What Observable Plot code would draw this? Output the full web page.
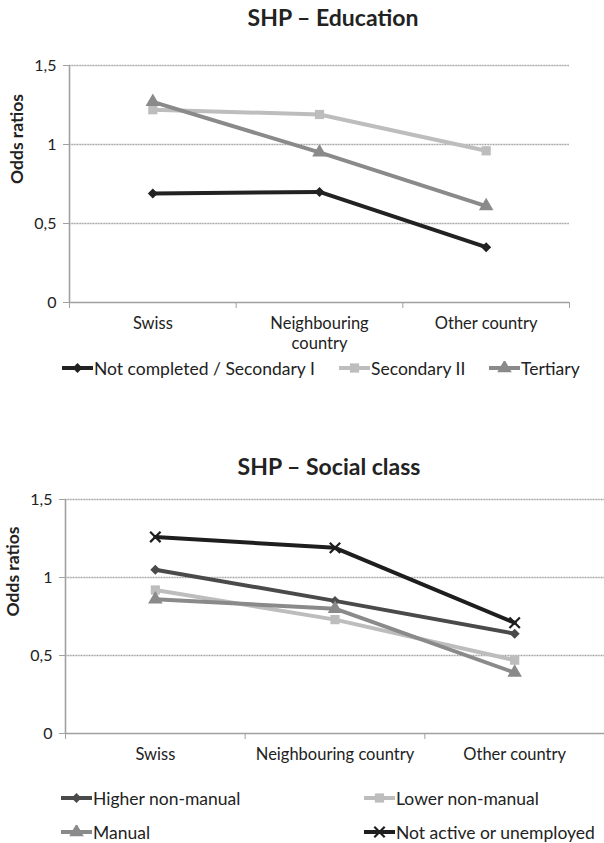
<!DOCTYPE html>
<html>
<head>
<meta charset="utf-8">
<script src="https://cdn.jsdelivr.net/npm/d3@7"></script>
<script src="https://cdn.jsdelivr.net/npm/@observablehq/plot@0.6"></script>
<style>
  html, body { margin: 0; padding: 0; background: #fff; }
  body { width: 604px; height: 843px; position: relative; overflow: hidden; font-family: Lato, "Open Sans", sans-serif; color: #222; }
  .title { position: absolute; transform: translateX(-50%); font-weight: bold; font-size: 23px; line-height: 23px; white-space: nowrap; color: #222; }
  .chart { position: absolute; left: 0; }
  .leg { position: absolute; display: flex; align-items: center; height: 20px; font-size: 17.5px; white-space: nowrap; color: #222; }
  .leg svg { display: block; margin-right: 1px; }
</style>
</head>
<body>
<div class="title" id="t1" style="left:333px; top:6px;">SHP – Education</div>
<div class="chart" id="c1" style="top:40px;"></div>
<div id="l1"></div>
<div class="title" id="t2" style="left:329px; top:455px;">SHP – Social class</div>
<div class="chart" id="c2" style="top:480px;"></div>
<div id="l2"></div>
<script>
// ---- data ----
const categories = ["Swiss", "Neighbouring country", "Other country"];
const categoryLabelsTop = ["Swiss", "Neighbouring\ncountry", "Other country"];
const yTicks = [0, 0.5, 1, 1.5];

const eduNames = ["Not completed / Secondary I", "Secondary II", "Tertiary"];
const eduNotCompleted = [0.69, 0.70, 0.35];
const eduSecondaryII = [1.22, 1.19, 0.96];
const eduTertiary = [1.27, 0.95, 0.61];

const classNames = ["Higher non-manual", "Lower non-manual", "Manual", "Not active or unemployed"];
const classHigher = [1.05, 0.85, 0.64];
const classLower = [0.92, 0.73, 0.47];
const classManual = [0.86, 0.80, 0.39];
const classNotActive = [1.26, 1.19, 0.71];

// ---- styles ----
const eduStyles = [
  {color: "#222222", symbol: "square", rotate: 45, r: 4.0, stroke: false},
  {color: "#bdbdbd", symbol: "square", rotate: 0, r: 5.2, stroke: false},
  {color: "#8a8a8a", symbol: "triangle", rotate: 0, r: 5.4, stroke: false}
];
const classStyles = [
  {color: "#4a4a4a", symbol: "square", rotate: 45, r: 4.0, stroke: false},
  {color: "#bdbdbd", symbol: "square", rotate: 0, r: 5.2, stroke: false},
  {color: "#8a8a8a", symbol: "triangle", rotate: 0, r: 5.4, stroke: false},
  {color: "#1e1e1e", symbol: "times", rotate: 0, r: 4.8, stroke: true}
];

const fmt = d => String(d).replace(".", ",");
const boundaries = d3.range(categories.length + 1).map(i => i - 0.5);

function chart({names, values, styles, labels, height, mt, mb, ml, mr, xPad}) {
  const marks = [
    Plot.gridY(yTicks.filter(d => d > 0), {stroke: "#9c9c9c", strokeOpacity: 1, strokeWidth: 1.6, strokeDasharray: "1,0.6"}),
    Plot.ruleY([0], {stroke: "#a0a0a0", strokeWidth: 1.6}),
    Plot.ruleX([-0.5], {stroke: "#a0a0a0", strokeWidth: 1.6}),
    Plot.axisY({ticks: yTicks, tickSize: 6, tickPadding: 7, tickFormat: fmt, stroke: "#a0a0a0", label: null, fontSize: 16}),
    Plot.axisX({ticks: boundaries, tickSize: 6, tickFormat: () => "", stroke: "#a0a0a0", label: null}),
    Plot.axisX({ticks: d3.range(categories.length), tickSize: 0, tickPadding: xPad, tickFormat: i => labels[i], label: null, fontSize: 16.5, lineHeight: 1.18}),
    Plot.text(["Odds ratios"], {frameAnchor: "left", rotate: -90, dx: -52, fontWeight: "bold", fontSize: 17.5, fill: "#222"})
  ];
  names.forEach((name, k) => {
    const st = styles[k];
    const rows = values[k].map((v, i) => ({i, v, name}));
    marks.push(Plot.line(rows, {x: "i", y: "v", stroke: st.color, strokeWidth: 4, strokeLinejoin: "round"}));
    if (st.stroke) {
      marks.push(Plot.dot(rows, {x: "i", y: "v", symbol: st.symbol, r: st.r, stroke: st.color, strokeWidth: 2.2, fill: "none"}));
    } else {
      marks.push(Plot.dot(rows, {x: "i", y: "v", symbol: st.symbol, r: st.r, fill: st.color, stroke: "none", rotate: st.rotate}));
    }
  });
  return Plot.plot({
    width: 604, height, marginTop: mt, marginBottom: mb, marginLeft: ml, marginRight: mr,
    style: {fontFamily: "Lato, 'Open Sans', sans-serif", fontSize: "15px", color: "#222", background: "transparent", overflow: "visible"},
    x: {domain: [-0.5, categories.length - 0.5]},
    y: {domain: [0, 1.5]},
    marks
  });
}

document.getElementById("c1").appendChild(chart({
  names: eduNames, values: [eduNotCompleted, eduSecondaryII, eduTertiary], styles: eduStyles,
  labels: categoryLabelsTop, height: 315, mt: 25, mb: 53, ml: 69, mr: 35, xPad: 13
}));
document.getElementById("c2").appendChild(chart({
  names: classNames, values: [classHigher, classLower, classManual, classNotActive], styles: classStyles,
  labels: categories, height: 290, mt: 19, mb: 37, ml: 65, mr: 0, xPad: 13
}));

// ---- legends ----
function swatch(st) {
  const svg = d3.create("svg").attr("width", 31).attr("height", 14);
  svg.append("line").attr("x1", 0).attr("x2", 31).attr("y1", 7).attr("y2", 7)
    .attr("stroke", st.color).attr("stroke-width", 4);
  const sym = {square: d3.symbolSquare, triangle: d3.symbolTriangle, times: d3.symbolTimes}[st.symbol];
  const p = svg.append("path").attr("d", d3.symbol(sym, Math.PI * st.r * st.r)())
    .attr("transform", `translate(15.5,7) rotate(${st.rotate})`);
  if (st.stroke) p.attr("fill", "none").attr("stroke", st.color).attr("stroke-width", 2.2);
  else p.attr("fill", st.color);
  return svg.node();
}
function legend(container, names, styles, positions) {
  const root = document.getElementById(container);
  names.forEach((n, k) => {
    const d = document.createElement("div");
    d.className = "leg";
    d.style.left = positions[k][0] + "px";
    d.style.top = (positions[k][1] - 10) + "px";
    d.appendChild(swatch(styles[k]));
    const s = document.createElement("span");
    s.textContent = n;
    d.appendChild(s);
    root.appendChild(d);
  });
}
legend("l1", eduNames, eduStyles, [[62, 368], [339, 368], [489, 368]]);
legend("l2", classNames, classStyles, [[61, 798], [364, 798], [61, 832], [364, 832]]);
</script>
</body>
</html>
